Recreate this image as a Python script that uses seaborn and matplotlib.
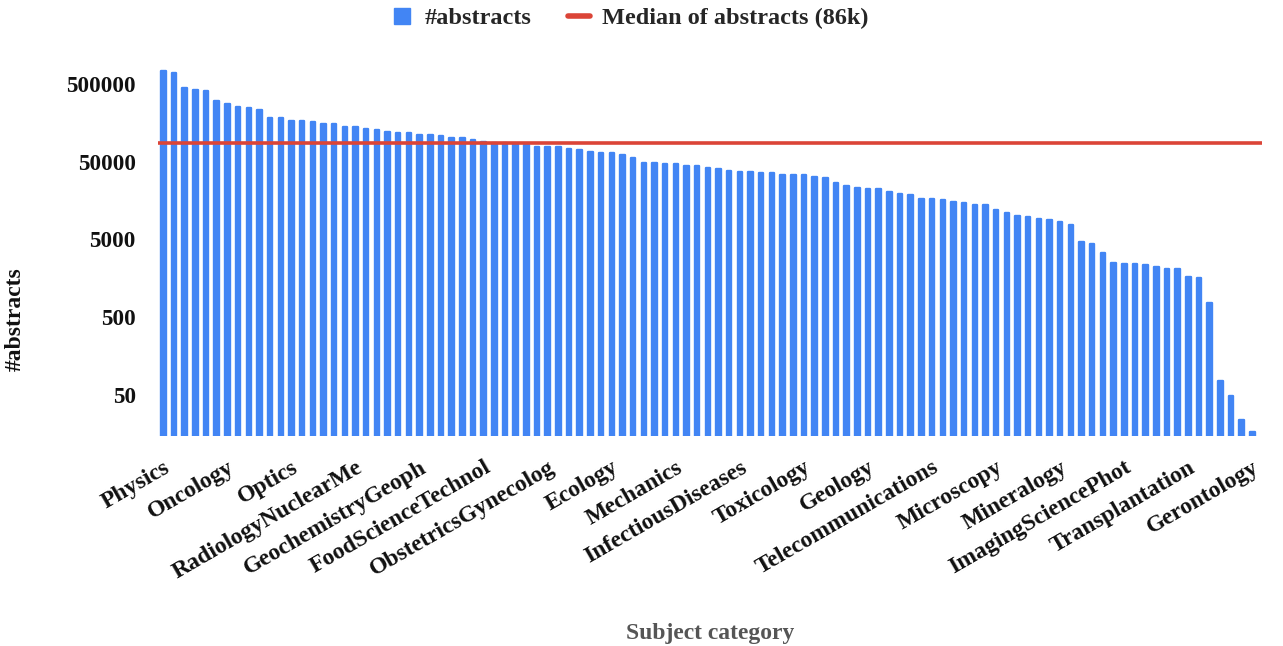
import numpy as np
import pandas as pd
import matplotlib
matplotlib.use('Agg')
import matplotlib.pyplot as plt
from matplotlib.lines import Line2D
import seaborn as sns

# abstracts per subject category (sorted)
abstracts = [
    740000, 703000, 442500, 425000, 405500, 307000, 280500, 256500, 245000, 232700,
    185300, 183000, 169500, 168000, 161700, 155200, 154000, 140600, 139500, 133700,
    128700, 122300, 117700, 116500, 112000, 111000, 106700, 101500, 100500, 96600,
    90200, 86700, 86000, 85500, 81800, 77700, 77000, 76500, 73900, 70500,
    67600, 64500, 64000, 61300, 55600, 48850, 48500, 46550, 46200, 44650,
    44300, 42100, 40500, 38500, 37000, 36800, 35650, 35400, 33900, 33700,
    33500, 32250, 30750, 26750, 24500, 23300, 22200, 22000, 20300, 19500,
    18600, 16800, 16600, 16200, 15400, 14650, 14050, 13900, 12130, 11100,
    10150, 9680, 9290, 8850, 8420, 7710, 4615, 4430, 3365, 2523,
    2450, 2430, 2334, 2220, 2110, 2100, 1665, 1602, 764, 76.4,
    48.5, 24.0, 16.9,
]
tick_labels = [
    'Physics', 'Oncology', 'Optics', 'RadiologyNuclearMe', 'GeochemistryGeoph',
    'FoodScienceTechnol', 'ObstetricsGynecolog', 'Ecology', 'Mechanics',
    'InfectiousDiseases', 'Toxicology', 'Geology', 'Telecommunications',
    'Microscopy', 'Mineralogy', 'ImagingSciencePhot', 'Transplantation', 'Gerontology',
]
y_ticks = [50, 500, 5000, 50000, 500000]
median_abstracts = 86000

blue = '#4285F4'
red = '#DB4437'
ink = '#111111'

sns.set_style('white')
plt.rcParams['font.family'] = ['Liberation Serif', 'DejaVu Serif']
plt.rcParams['font.weight'] = 'bold'

df = pd.DataFrame({'idx': np.arange(len(abstracts)), 'abstracts': abstracts})

fig = plt.figure(figsize=(12.83, 6.46), dpi=100)
ax = fig.add_axes([158 / 1283, 1 - 436 / 646, 1104 / 1283, 376 / 646])

sns.barplot(data=df, x='idx', y='abstracts', color=blue, saturation=1,
            width=0.42, ax=ax, log_scale=(False, True),
            edgecolor=blue, linewidth=1.7)
# thick edge with round joins -> rounded bar tops
for p in ax.patches:
    p.set_joinstyle('round')
ax.axhline(median_abstracts, color=red, lw=2.6, zorder=3)

ax.set_yscale('log')
ax.set_ylim(14.8, 1.02e6)
ax.set_xlim(-0.5, 102.9)
ax.set_yticks(y_ticks)
ax.set_yticklabels([str(t) for t in y_ticks], fontsize=16.7, fontweight='bold', color=ink)
ax.yaxis.set_minor_locator(plt.NullLocator())
ax.tick_params(axis='y', length=0, pad=16)

pos = list(range(0, len(abstracts), 6))
ax.set_xticks(pos)
ax.set_xticklabels(tick_labels, rotation=30, ha='right', rotation_mode='anchor',
                   fontsize=17, fontweight='bold', color=ink)
ax.tick_params(axis='x', length=0, pad=15)

for s in ax.spines.values():
    s.set_visible(False)
ax.grid(False)

ax.set_ylabel('#abstracts', fontsize=17, fontweight='bold', color=ink)
ax.yaxis.set_label_coords(-0.1196, 0.311)
ax.set_xlabel('Subject category', fontsize=17, fontweight='bold', color='#555555')
ax.xaxis.set_label_coords(0.5, (436 - 623) / 376)

handles = [
    Line2D([], [], marker='s', color=blue, linestyle='none', markersize=11),
    Line2D([], [], color=red, lw=4),
]
fig.legend(handles, ['#abstracts', 'Median of abstracts (86k)'], loc='center',
           bbox_to_anchor=(0.491, 1 - 18 / 646), ncol=2, frameon=False,
           prop={'size': 17.5, 'weight': 'bold'}, handlelength=0.9,
           columnspacing=1.5, handletextpad=0.5)

fig.savefig('out.png', dpi=100)
